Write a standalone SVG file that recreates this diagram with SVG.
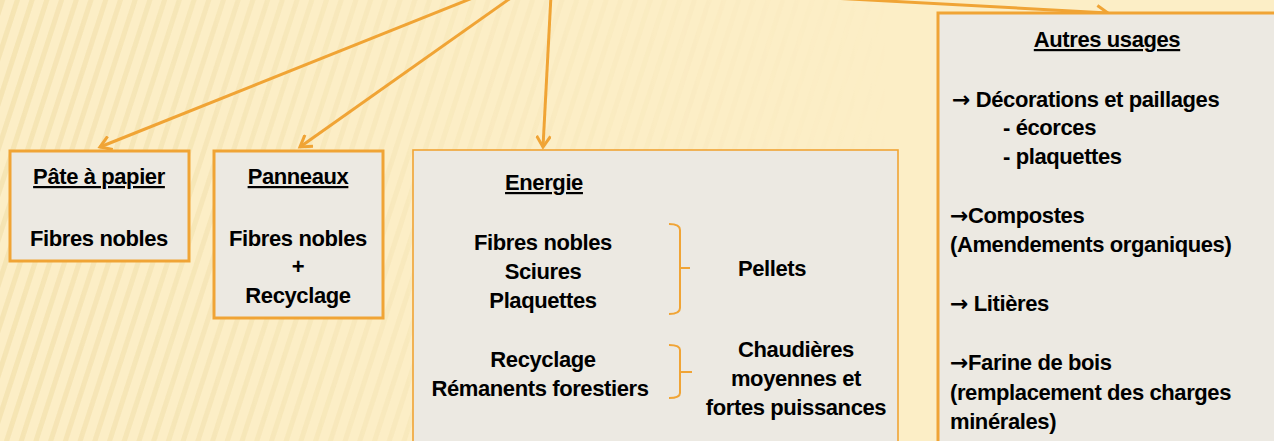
<svg xmlns="http://www.w3.org/2000/svg" width="1274" height="441" viewBox="0 0 1274 441">
<defs>
<style>
.box{fill:#ECE9E2;stroke:#F0A435;stroke-width:3}
.thin{stroke-width:1.6}
.t{font-family:"Liberation Sans",Arial,sans-serif;font-weight:bold;font-size:22px;fill:#000;letter-spacing:-0.4px}
.a{font-family:"DejaVu Sans",sans-serif;font-size:22px}
.c{text-anchor:middle}
.u{text-decoration:underline}
.conn{stroke:#F0A435;stroke-width:3;fill:none}
.br{stroke:#F0A435;stroke-width:2;fill:none}
</style>
<marker id="ah" markerWidth="16" markerHeight="16" refX="13" refY="8" orient="auto" markerUnits="userSpaceOnUse">
<path d="M2,1 L13,8 L2,15" fill="none" stroke="#F0A435" stroke-width="3"/>
</marker>
<pattern id="stripes" width="14" height="14" patternUnits="userSpaceOnUse" patternTransform="rotate(18)">
<rect x="0" y="0" width="5" height="14" fill="#E6D08A" opacity="0.3"/>
</pattern>
<linearGradient id="fade" x1="0" y1="0" x2="1" y2="0">
<stop offset="0" stop-color="#fff" stop-opacity="1"/>
<stop offset="0.35" stop-color="#fff" stop-opacity="0.4"/>
<stop offset="0.7" stop-color="#fff" stop-opacity="0"/>
</linearGradient>
<mask id="m"><rect width="1274" height="441" fill="url(#fade)"/></mask>
</defs>
<rect width="1274" height="441" fill="#FCEEC6"/>
<rect width="1274" height="441" fill="url(#stripes)" mask="url(#m)"/>

<g id="connectors">
<line class="conn" x1="480" y1="-5" x2="100" y2="147" marker-end="url(#ah)" stroke-width="3.5"/>
<line class="conn" x1="515" y1="-5" x2="300" y2="147" marker-end="url(#ah)"/>
<line class="conn" x1="551" y1="-5" x2="543" y2="147" marker-end="url(#ah)"/>
<line class="conn" x1="500" y1="-20" x2="1108" y2="13" marker-end="url(#ah)"/>
</g>

<g id="pate">
<rect class="box" x="10" y="151" width="179" height="110"/>
<text class="t c u" x="99" y="184">Pâte à papier</text>
<text class="t c" x="99" y="246">Fibres nobles</text>
</g>

<g id="panneaux">
<rect class="box" x="214" y="151" width="169" height="167"/>
<text class="t c u" x="298" y="184">Panneaux</text>
<text class="t c" x="298" y="246">Fibres nobles</text>
<text class="t c" x="298" y="274">+</text>
<text class="t c" x="298" y="303">Recyclage</text>
</g>

<g id="energie">
<rect class="box thin" x="413" y="150" width="485" height="300"/>
<text class="t c u" x="544" y="190">Energie</text>
<text class="t c" x="543" y="250">Fibres nobles</text>
<text class="t c" x="543" y="279">Sciures</text>
<text class="t c" x="543" y="308">Plaquettes</text>
<path class="br" d="M669,224 Q680,224 680,230 L680,308 Q680,314 669,314 M680,268 L690,268"/>
<text class="t c" x="772" y="276">Pellets</text>
<text class="t c" x="543" y="367">Recyclage</text>
<text class="t c" x="540" y="396">Rémanents forestiers</text>
<path class="br" d="M669,345 Q680,345 680,350 L680,393 Q680,398 669,398 M680,372 L692,372"/>
<text class="t c" x="796" y="357">Chaudières</text>
<text class="t c" x="796" y="386">moyennes et</text>
<text class="t c" x="796" y="415">fortes puissances</text>
</g>

<g id="autres">
<rect class="box" x="938" y="13" width="345" height="440"/>
<text class="t c u" x="1107" y="47">Autres usages</text>
<text class="t" x="952" y="107"><tspan class="a">→</tspan> Décorations et paillages</text>
<text class="t" x="1003" y="135">- écorces</text>
<text class="t" x="1003" y="164">- plaquettes</text>
<text class="t" x="950" y="223"><tspan class="a">→</tspan>Compostes</text>
<text class="t" x="950" y="252">(Amendements organiques)</text>
<text class="t" x="950" y="311"><tspan class="a">→</tspan> Litières</text>
<text class="t" x="950" y="370"><tspan class="a">→</tspan>Farine de bois</text>
<text class="t" x="950" y="400">(remplacement des charges</text>
<text class="t" x="950" y="429">minérales)</text>
</g>
</svg>
